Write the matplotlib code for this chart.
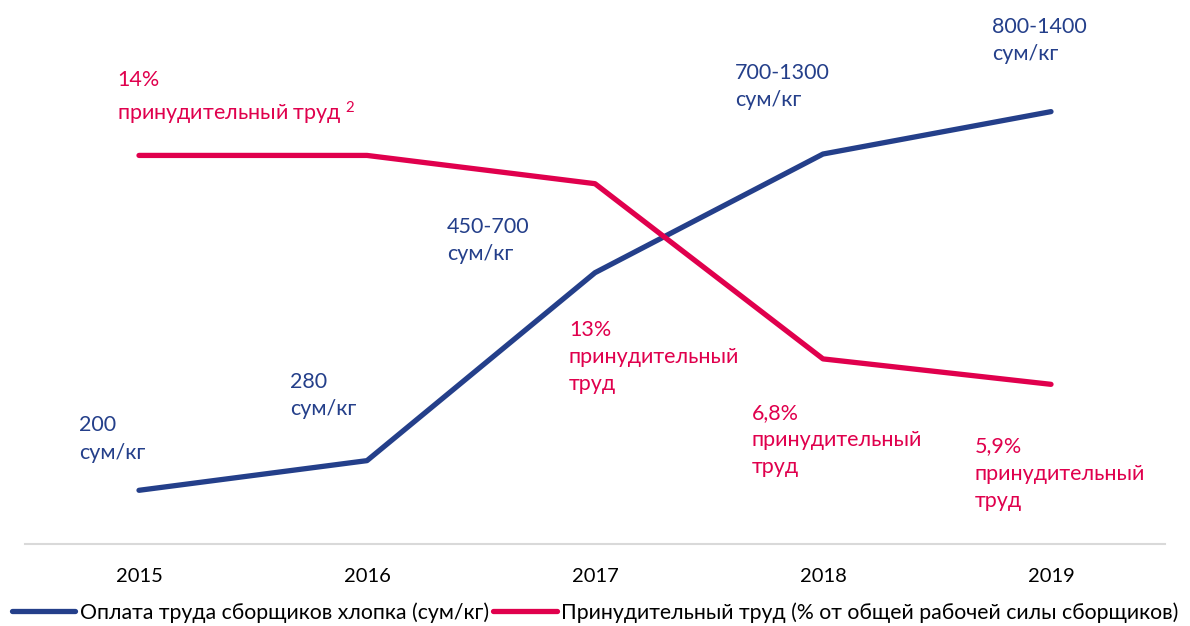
import matplotlib.pyplot as plt

plt.rcParams['font.family'] = ['Lato', 'DejaVu Sans']
plt.rcParams['mathtext.fontset'] = 'custom'
plt.rcParams['mathtext.rm'] = 'Lato'
plt.rcParams['mathtext.default'] = 'rm'

years = [2015, 2016, 2017, 2018, 2019]
# share of forced labour, %
forced = [14, 14, 13, 6.8, 5.9]
forced_labels = ["14%\nпринудительный труд $^{2}$", "", "13%\nпринудительный\nтруд",
                 "6,8%\nпринудительный\nтруд", "5,9%\nпринудительный\nтруд"]
# pay line is schematic in the source: heights (same scale as %)
pay_level = [2.15, 3.2, 9.85, 14.05, 15.55]
pay_labels = ["200\nсум/кг", "280\nсум/кг", "450-700\nсум/кг",
              "700-1300\nсум/кг", "800-1400\nсум/кг"]

blue = '#243F8A'
red = '#E0004D'

fig = plt.figure(figsize=(11.9, 6.26), dpi=100)
ax = fig.add_axes([25/1190, 1 - 544/626, 1140/1190, 544/626])

ax.plot(years, pay_level, color=blue, lw=3.8, solid_capstyle='round',
        solid_joinstyle='round', label="Оплата труда сборщиков хлопка (сум/кг)")
ax.plot(years, forced, color=red, lw=3.8, solid_capstyle='round',
        solid_joinstyle='round', label="Принудительный труд (% от общей рабочей силы сборщиков)")

ax.set_xlim(2014.5, 2019.5)
ax.set_ylim(0.25, 19.5)

# label offsets in pixels from the point (left, top of text)
pay_off = [(-60, 75), (-77, 89), (-148, 56), (-88, 91), (-59, 95)]
forced_off = [(-22, 85), None, (-26, -136), (-71, -44), (-76, -52)]

for x, y, t, o in zip(years, pay_level, pay_labels, pay_off):
    ax.annotate(t, (x, y), xytext=o, textcoords='offset pixels', ha='left', va='top',
                color=blue, fontsize=15.5, linespacing=1.45)
for x, y, t, o in zip(years, forced, forced_labels, forced_off):
    if o is None:
        continue
    ax.annotate(t, (x, y), xytext=o, textcoords='offset pixels', ha='left', va='top',
                color=red, fontsize=15.5, linespacing=1.45)

for s in ['top', 'right', 'left']:
    ax.spines[s].set_visible(False)
ax.spines['bottom'].set_color('#D9D9D9')
ax.spines['bottom'].set_linewidth(1.5)
ax.set_yticks([])
ax.set_xticks(years)
ax.set_xticklabels([str(y) for y in years], fontsize=14.5)
ax.tick_params(axis='x', length=0, pad=17)

fig.legend(loc='lower center', ncol=2, frameon=False, fontsize=15.3,
           handlelength=3.0, handletextpad=0.2, columnspacing=0.2,
           bbox_to_anchor=(0.5, -0.025))

fig.savefig('out.png', dpi=100)
